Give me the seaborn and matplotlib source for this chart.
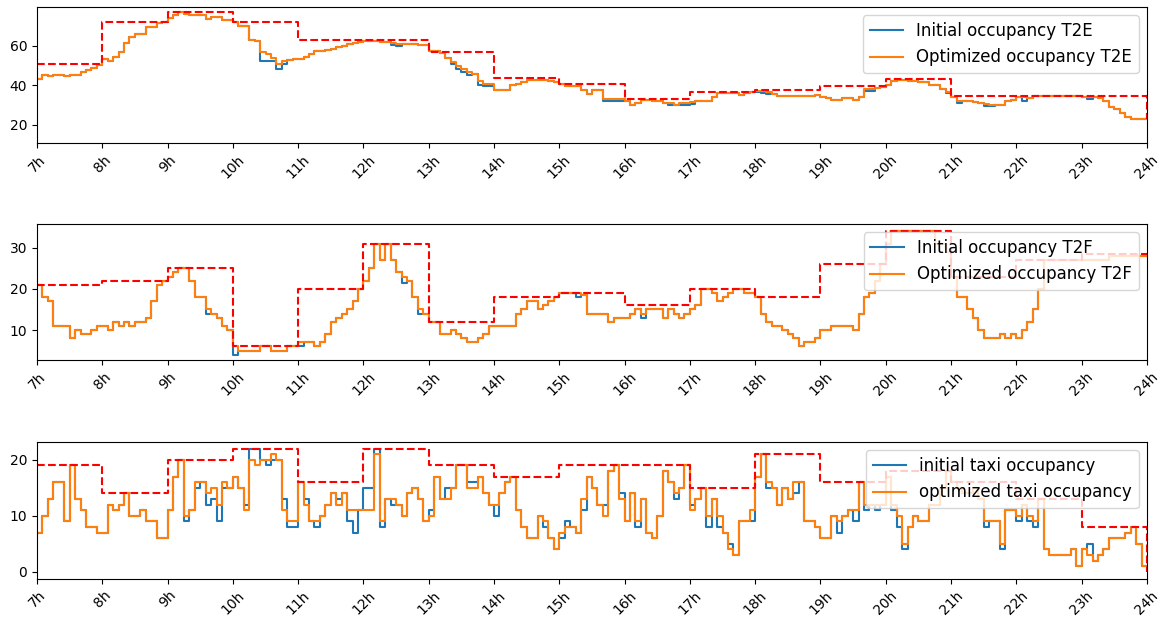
import matplotlib
matplotlib.use("Agg")
import matplotlib.pyplot as plt
import numpy as np
import seaborn as sns

# hour axis
hour_ticks = list(range(7, 25))
hour_labels = [f"{h}h" for h in hour_ticks]

# ---- T2E (5 min values from 7:00, last value is 24:00) ----
t2e_optimized = [
    43, 45, 44.5, 45, 45, 44.5, 45, 45, 47, 48, 49, 50.5,
    53.5, 52.5, 54.5, 57, 61.5, 64.5, 66, 66, 69.5, 69.5, 71.5, 72,
    74, 75.5, 77, 76, 75.5, 75.5, 75.5, 73.5, 74.5, 74.5, 73, 73,
    72, 70, 70, 63, 62.5, 57, 56, 54, 51, 52.5, 53, 53.5,
    53.5, 54.5, 56, 57.5, 57.5, 58, 58.5, 59.5, 60, 61, 61.5, 62,
    62.5, 62.5, 62.5, 62, 62, 61.5, 61, 61, 61, 61, 60.5, 60.5,
    57.5, 57.5, 56.5, 54, 52, 50, 48.5, 47, 46, 42, 40.5, 40.5,
    37.5, 37.5, 37.5, 40, 40.5, 41.5, 42.5, 42.5, 42.5, 42.5, 42, 41.5,
    40.5, 39.5, 39.5, 39.5, 37.5, 35.5, 37.5, 37.5, 33, 33, 33, 33,
    32, 30, 31, 32.5, 32.5, 32, 32, 31, 31, 30, 31, 31,
    31.5, 32, 32, 32, 34, 36, 36, 36, 36, 35, 36, 36.5,
    37, 37, 36.5, 35.5, 34.5, 34.5, 34.5, 34.5, 34.5, 34.5, 34.5, 35,
    34, 33.5, 32.5, 32.5, 33.5, 33.5, 32.5, 34, 38, 38, 38.5, 39,
    40, 42, 42.5, 42.5, 42, 42, 41.5, 41.5, 40, 40, 38, 36.5,
    34, 32, 32, 32, 31.5, 31, 30.5, 30, 30, 30, 32, 32.5,
    34, 34, 33.5, 34.5, 34.5, 34.5, 34.5, 34.5, 34.5, 34.5, 34.5, 34.5,
    34, 34, 34, 33.5, 32, 29, 28, 26, 24, 23, 23, 23,
    23,
]
# where the initial occupancy differs from the optimized one
t2e_initial_changes = {
    "10:25": 52.5, "10:30": 52.5, "10:35": 52.5, "10:40": 48.5, "10:45": 51,
    "12:25": 60.5, "12:30": 60,
    "13:20": 51, "13:25": 48.5, "13:30": 47, "13:35": 45.5, "13:45": 40,
    "13:50": 39.5, "13:55": 39.5,
    "15:40": 32, "15:45": 32, "15:50": 32, "15:55": 32,
    "16:40": 30, "16:50": 30, "16:55": 30, "17:00": 30.5,
    "18:00": 36.5, "18:05": 36, "18:10": 35.5,
    "19:40": 37, "19:45": 37, "20:55": 36,
    "21:05": 31, "21:30": 29.5, "21:35": 29.5, "22:05": 32, "23:05": 33,
}
t2e_capacity = [51, 72, 77, 72, 63, 63, 57, 43.5, 40.5, 33, 36.5, 37.5,
                39.5, 43, 34.5, 34.5, 34.5, 23]

# ---- T2F ----
t2f_optimized = [
    21, 18, 17, 11, 11, 11, 8, 10, 9, 9, 10, 11,
    11, 10, 12, 11, 12, 11, 12, 12, 13, 17, 21, 22,
    23, 24, 25, 25, 22, 18, 18, 15, 14, 13, 11, 10,
    6, 5, 5, 5, 5, 6, 6, 5, 5, 5, 6, 6,
    7, 7, 7, 6, 7, 9, 12, 13, 14, 15, 17, 20,
    22, 25, 31, 27, 31, 27, 24, 23, 22, 18, 15, 14,
    12, 12, 9, 9, 10, 9, 8, 7, 7, 8, 9, 11,
    11, 11, 11, 11, 14, 15, 17, 17, 15, 16, 17, 18,
    19, 19, 19, 19, 18.5, 14, 14, 14, 14, 12, 13, 13,
    13, 14, 15, 14, 15, 15, 15, 13, 15, 14, 13, 14,
    15, 16, 20, 20, 19, 17, 18, 19, 20, 20, 19, 19,
    18, 14, 12, 11, 11, 10, 9, 8, 6, 7, 7, 8,
    10, 10, 11, 11, 11, 11, 10, 14, 18, 19, 22, 26,
    31, 34, 34, 34, 34, 34, 34, 34, 34, 31, 31, 29,
    23, 18, 18, 15, 13, 10, 8, 8, 8, 9, 8, 9,
    8, 10, 12, 15, 20, 27, 27, 27, 27, 27, 27, 27,
    27, 27, 27, 27, 27, 28, 28, 28, 28, 28, 28, 28,
    28,
]
t2f_initial_changes = {
    "9:35": 14, "10:00": 4, "11:00": 6, "12:35": 21.5, "12:50": 14,
    "15:15": 18, "16:15": 13,
}
t2f_capacity = [21, 22, 25, 6, 20, 31, 12, 18, 19, 16, 20, 18, 26, 34, 23,
                27, 28.5, 28.5]

# ---- taxi ----
taxi_optimized = [
    7, 10, 13, 16, 16, 9, 19, 13, 11, 8, 8, 7,
    7, 12, 11, 12, 14, 10, 10, 11, 9, 9, 6, 6,
    11, 17, 20, 10, 11, 16, 16, 14, 15, 12, 16, 15,
    17, 15, 11, 20, 19, 20, 20, 21, 20, 11, 9, 9,
    16, 12, 9, 9, 10, 12, 14, 12, 14, 11, 11, 11,
    11, 11, 21, 9, 13, 13, 12, 10, 14, 15, 13, 9,
    10, 17, 13, 13, 15, 19, 19, 15, 15, 17, 14, 12,
    12, 14, 16, 17, 11, 8, 6, 6, 10, 9, 6, 4,
    7, 8, 8, 7, 13, 17, 15, 12, 10, 18, 19, 13,
    9, 14, 9, 13, 7, 6, 10, 18, 16, 14, 15, 19,
    11, 13, 15, 10, 13, 10, 7, 4, 3, 9, 9, 11,
    17, 21, 16, 15, 12, 15, 13, 16, 16, 9, 9, 8,
    6, 6, 10, 9, 10, 11, 11, 16, 12, 12, 12, 12,
    17, 12, 10, 5, 8, 10, 9, 9, 12, 12, 15, 18,
    16, 15, 14, 14, 15, 13, 9, 9, 9, 5, 11, 11,
    10, 12, 10, 9, 13, 4, 3, 3, 3, 3, 4, 1,
    4, 3, 2, 3, 4, 6, 6, 6, 7, 8, 5, 1,
    1,
]
taxi_initial_changes = {
    "9:15": 9, "9:25": 15, "9:35": 12, "9:40": 13, "9:45": 9, "9:50": 15,
    "10:10": 12, "10:15": 22, "10:20": 22, "10:30": 19, "10:35": 20,
    "10:45": 13, "10:50": 8, "10:55": 8,
    "11:05": 13, "11:15": 8, "11:35": 13, "11:45": 9, "11:50": 7,
    "12:00": 15, "12:05": 15, "12:10": 22, "12:15": 8, "12:25": 12,
    "13:00": 11, "13:15": 15, "13:35": 16, "13:40": 16, "14:00": 10,
    "14:45": 8,
    "15:00": 6, "15:05": 9, "15:20": 11, "15:40": 12, "15:55": 14,
    "16:10": 8, "16:45": 13,
    "17:00": 12, "17:15": 8, "17:25": 8, "17:35": 5, "17:55": 9,
    "18:10": 15, "18:35": 14,
    "19:15": 7, "19:30": 9, "19:40": 11, "19:50": 11,
    "20:05": 11, "20:10": 8, "20:15": 4,
    "21:30": 8, "21:45": 4,
    "22:00": 9, "22:10": 9, "22:15": 8, "23:05": 5,
}
taxi_capacity = [19, 14, 20, 22, 16, 22, 19, 17, 19, 19, 15, 21, 16, 18, 16,
                 13, 8, 0]


def build_initial(optimized, changes):
    values = list(optimized)
    for stamp, v in changes.items():
        h, m = stamp.split(":")
        values[(int(h) - 7) * 12 + int(m) // 5] = v
    return values


def plot_panel(ax, optimized, changes, capacity, labels, ylim):
    times = 7 + np.arange(len(optimized)) / 12
    initial = build_initial(optimized, changes)
    sns.lineplot(x=times, y=initial, ax=ax, drawstyle="steps-post",
                 color="C0", label=labels[0])
    sns.lineplot(x=times, y=optimized, ax=ax, drawstyle="steps-post",
                 color="C1", label=labels[1])
    ax.plot(hour_ticks, capacity, drawstyle="steps-post", color="red",
            linestyle="--")
    ax.set_xlim(7, 24)
    ax.set_ylim(*ylim)
    ax.set_xticks(hour_ticks)
    ax.set_xticklabels(hour_labels, rotation=45)
    ax.legend(loc="upper right", fontsize=12)


fig = plt.figure(figsize=(11.63, 6.25), dpi=100)
ax1 = fig.add_axes([0.0318, 0.7712, 0.9544, 0.2176])
ax2 = fig.add_axes([0.0318, 0.4240, 0.9544, 0.2176])
ax3 = fig.add_axes([0.0318, 0.0744, 0.9544, 0.2184])

plot_panel(ax1, t2e_optimized, t2e_initial_changes, t2e_capacity,
           ["Initial occupancy T2E", "Optimized occupancy T2E"], (10.9, 79.6))
plot_panel(ax2, t2f_optimized, t2f_initial_changes, t2f_capacity,
           ["Initial occupancy T2F", "Optimized occupancy T2F"], (2.7, 35.8))
plot_panel(ax3, taxi_optimized, taxi_initial_changes, taxi_capacity,
           ["initial taxi occupancy", "optimized taxi occupancy"], (-1.2, 23.2))

fig.savefig("out.png", dpi=100)
